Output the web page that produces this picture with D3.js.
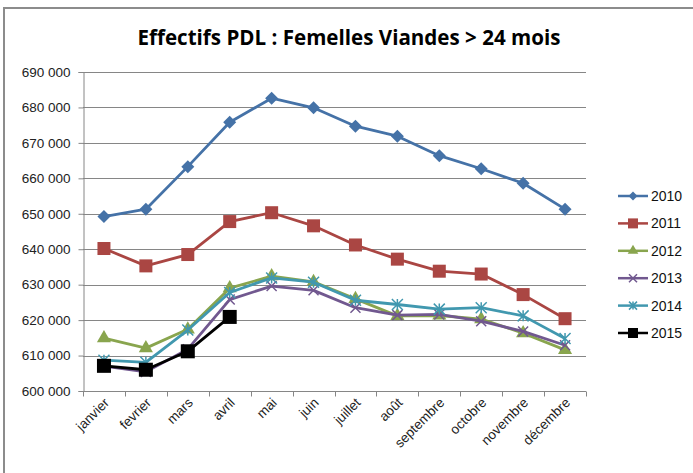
<!DOCTYPE html>
<html><head><meta charset="utf-8">
<script src="https://cdn.jsdelivr.net/npm/d3@7"></script>
<style>body{margin:0;background:#fff}svg{display:block}</style>
</head><body>
<script>
const months = ["janvier","fevrier","mars","avril","mai","juin","juillet","août","septembre","octobre","novembre","décembre"];
const yTicks = [600000,610000,620000,630000,640000,650000,660000,670000,680000,690000];
const s2010 = [649200,651300,663300,675800,682600,679900,674700,671900,666400,662700,658600,651300];
const s2011 = [640200,635300,638500,647800,650300,646600,641200,637200,633800,633000,627200,620400];
const s2012 = [614900,612100,617400,629000,632400,630800,626000,621200,621300,620300,616300,611600];
const s2013 = [607000,605400,611800,625800,629600,628400,623500,621400,621600,619700,616800,612900];
const s2014 = [608700,608100,617200,627800,631900,630700,625600,624400,623100,623500,621200,614800];
const s2015 = [607100,606000,611200,620900];
const seriesNames = ["2010","2011","2012","2013","2014","2015"];
const seriesData = [s2010,s2011,s2012,s2013,s2014,s2015];
const colors = ["#4572a7","#aa4643","#89a54e","#71588f","#4198af","#000000"];
const shapes = ["diamond","square","triangle","x","star","square"];

const W=693,H=473;
const svg=d3.select("body").append("svg").attr("width",W).attr("height",H);
svg.append("rect").attr("x",4).attr("y",8).attr("width",W+10).attr("height",H+10)
  .attr("fill","#fff").attr("stroke","#8c8c8c").attr("stroke-width",2);

const L=83,R=586,T=72,B=391;
const x=d3.scaleBand().domain(months).range([L,R]);
const y=d3.scaleLinear().domain([600000,690000]).range([B,T]);

svg.append("text").attr("x",349).attr("y",45).attr("text-anchor","middle")
  .attr("font-family","'Open Sans', 'Liberation Sans', sans-serif").attr("font-weight","bold")
  .attr("font-size",22).attr("textLength",423).attr("lengthAdjust","spacingAndGlyphs")
  .text("Effectifs PDL : Femelles Viandes > 24 mois");

// gridlines
svg.append("g").selectAll("line").data(yTicks.slice(1)).join("line")
  .attr("x1",L).attr("x2",R).attr("y1",d=>Math.round(y(d))+0.5).attr("y2",d=>Math.round(y(d))+0.5)
  .attr("stroke","#868686").attr("stroke-width",1);

const fmt=d=>d3.format(",")(d).replace(/,/g," ");
const ya=svg.append("g").attr("transform",`translate(${L+0.5},0)`)
  .call(d3.axisLeft(y).tickValues(yTicks).tickFormat(fmt).tickSize(5).tickPadding(8));
ya.select(".domain").attr("stroke","#868686");
ya.selectAll(".tick line").attr("stroke","#868686");
ya.selectAll("text").attr("font-family","'Liberation Sans Narrow','Liberation Sans',sans-serif")
  .attr("font-size",13.5).attr("fill","#222");

// x axis
const xa=svg.append("g").attr("transform",`translate(0,${B+0.5})`);
xa.append("line").attr("x1",L).attr("x2",R).attr("stroke","#868686");
const bounds=months.map(m=>x(m)).concat([R]);
xa.selectAll("line.t").data(bounds).join("line").attr("class","t")
  .attr("x1",d=>Math.round(d)+0.5).attr("x2",d=>Math.round(d)+0.5).attr("y1",0).attr("y2",5).attr("stroke","#868686");
xa.selectAll("text").data(months).join("text")
  .attr("transform",d=>`translate(${x(d)+x.bandwidth()/2+6},${12}) rotate(-45)`)
  .attr("text-anchor","end").attr("font-family","'Liberation Sans Narrow','Liberation Sans',sans-serif")
  .attr("font-size",13.5).attr("fill","#222").text(d=>d);

const cx=m=>x(m)+x.bandwidth()/2;
function marker(g,shape,color,size){
  if(shape==="diamond") { const s=size/2; g.append("path").attr("d",`M0,${-s}L${s},0L0,${s}L${-s},0Z`).attr("fill",color); }
  else if(shape==="square") g.append("rect").attr("x",-size/2).attr("y",-size/2).attr("width",size).attr("height",size).attr("fill",color);
  else if(shape==="triangle") g.append("path").attr("d",d3.symbol(d3.symbolTriangle,size*size*0.6)()).attr("fill",color);
  else if(shape==="x") { const s=size/2; g.append("path").attr("d",`M${-s},${-s}L${s},${s}M${-s},${s}L${s},${-s}`).attr("stroke",color).attr("stroke-width",1.5); }
  else if(shape==="star") { const s=size/2; g.append("path").attr("d",`M${-s},${-s}L${s},${s}M${-s},${s}L${s},${-s}M0,${-s}L0,${s}`).attr("stroke",color).attr("stroke-width",1.5); }
}
const sizes=[13,13,12,10,11,14];
const line=d3.line().x((d,i)=>cx(months[i])).y(d=>y(d));
seriesData.forEach((data,k)=>{
  svg.append("path").datum(data).attr("d",line).attr("fill","none").attr("stroke",colors[k]).attr("stroke-width",2.8)
    .attr("stroke-linejoin","round");
  data.forEach((v,i)=>{
    const g=svg.append("g").attr("transform",`translate(${cx(months[i])},${y(v)})`);
    marker(g,shapes[k],colors[k],sizes[k]);
  });
});

// legend
seriesNames.forEach((n,k)=>{
  const ly=196+k*27.4;
  svg.append("line").attr("x1",618).attr("x2",648).attr("y1",ly).attr("y2",ly).attr("stroke",colors[k]).attr("stroke-width",2.5);
  const g=svg.append("g").attr("transform",`translate(633,${ly})`);
  marker(g,shapes[k],colors[k],[9,10,9,8,8,10][k]);
  svg.append("text").attr("x",651).attr("y",ly+5).attr("font-family","'Liberation Sans Narrow','Liberation Sans',sans-serif")
    .attr("font-size",14).attr("fill","#111").text(n);
});
</script>
</body></html>
